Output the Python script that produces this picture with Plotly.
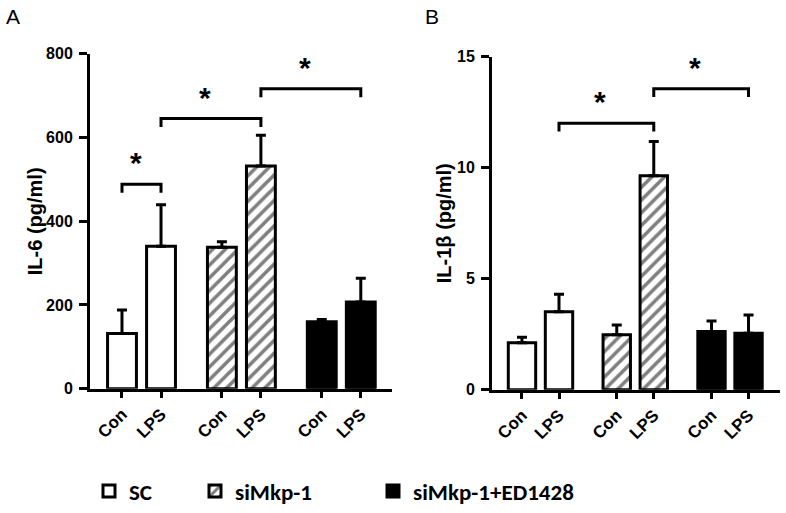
import plotly.graph_objects as go

# ---------------- data ----------------
conditions = ["Con", "LPS"]
groups = ["SC", "siMkp-1", "siMkp-1+ED1428"]

# IL-6 (pg/ml), order: SC Con, SC LPS, siMkp Con, siMkp LPS, ED Con, ED LPS
il6_mean = [132, 340, 338, 532, 160, 207]
il6_err = [56, 99, 13, 73, 5, 57]
il6_sig_pairs = [(0, 1), (1, 3), (3, 5)]
il6_sig_y = [488, 645, 716]
il6_ticks = [0, 200, 400, 600, 800]

# IL-1beta (pg/ml)
il1b_mean = [2.12, 3.51, 2.47, 9.64, 2.62, 2.54]
il1b_err = [0.24, 0.79, 0.44, 1.54, 0.47, 0.82]
il1b_sig_pairs = [(1, 3), (3, 5)]
il1b_sig_y = [12.0, 13.56]
il1b_ticks = [0, 5, 10, 15]

# ---------------- styling ----------------
GROUP_STEP = 2.56
BAR_W = 0.74
LW = 3
FONT = "Liberation Sans"
styles = [
    dict(color="white", pattern=dict(shape="")),
    dict(color="white", pattern=dict(shape="/", fgcolor="black", bgcolor="white", size=9, solidity=0.4)),
    dict(color="black", pattern=dict(shape="")),
]
legend_ids = ["legend", "legend2", "legend3"]

positions = [g * GROUP_STEP + i for g in range(len(groups)) for i in range(len(conditions))]
ticktext = [c for _ in groups for c in conditions]

fig = go.Figure()


def add_panel(means, errs, pairs, sig_y, ymax, xa, ya, show_legend):
    n = len(conditions)
    for g, name in enumerate(groups):
        xs = positions[g * n:(g + 1) * n]
        st = styles[g]
        fig.add_trace(go.Bar(
            x=xs, y=means[g * n:(g + 1) * n], width=BAR_W, name=name,
            marker=dict(color=st["color"], pattern=st["pattern"],
                        line=dict(color="black", width=LW)),
            error_y=dict(type="data", symmetric=False,
                         array=errs[g * n:(g + 1) * n], arrayminus=[0] * n,
                         color="black", thickness=LW, width=5),
            xaxis=xa, yaxis=ya, showlegend=show_legend,
            legend=legend_ids[g],
        ))
    drop = ymax * 0.025
    for (a, b), y in zip(pairs, sig_y):
        x1, x2 = positions[a], positions[b]
        fig.add_trace(go.Scatter(
            x=[x1, x1, x2, x2], y=[y - drop, y, y, y - drop], mode="lines",
            line=dict(color="black", width=LW), xaxis=xa, yaxis=ya,
            showlegend=False, hoverinfo="skip"))
        fig.add_annotation(x=(x1 + x2) / 2, y=y, xref=xa, yref=ya,
                           text="*", showarrow=False, yanchor="bottom",
                           xshift=-6, yshift=3,
                           font=dict(family=FONT, size=30, color="black", weight="bold"))


add_panel(il6_mean, il6_err, il6_sig_pairs, il6_sig_y, 800, "x", "y", True)
add_panel(il1b_mean, il1b_err, il1b_sig_pairs, il1b_sig_y, 15, "x2", "y2", False)

W, H = 786, 513
tickfont = dict(family=FONT, size=16, color="black", weight="bold")
xtickfont = dict(family=FONT, size=17, color="black", weight="bold")
titlefont = dict(family=FONT, size=20, color="black", weight="bold")


def xaxis(domain, rng):
    return dict(domain=domain, range=rng, tickvals=positions, ticktext=ticktext,
                tickangle=-45, ticks="outside", ticklen=6, tickwidth=LW,
                tickcolor="black", showline=True, linecolor="black", linewidth=LW,
                showgrid=False, zeroline=False, tickfont=xtickfont, automargin=False,
                fixedrange=True)


def yaxis(domain, rng, tickvals, anchor):
    return dict(domain=domain, range=rng, tickvals=tickvals, ticks="outside",
                ticklen=8, tickwidth=LW, tickcolor="black", showline=True,
                linecolor="black", linewidth=LW, showgrid=False, zeroline=False,
                tickfont=tickfont, anchor=anchor, automargin=False,
                ticklabelstandoff=3)


legend_common = dict(orientation="h", yanchor="middle", y=0.037, xanchor="left",
                     bgcolor="rgba(0,0,0,0)",
                     font=dict(family="Carlito, Liberation Sans Narrow, Arial Narrow, sans-serif",
                               size=23, color="black", weight="bold"))

fig.update_layout(
    width=W, height=H,
    margin=dict(l=0, r=0, t=0, b=0),
    paper_bgcolor="white", plot_bgcolor="white",
    barmode="overlay",
    xaxis=xaxis([90 / W, 392 / W], [-0.82, 6.92]) | dict(anchor="y"),
    yaxis=yaxis([1 - 391 / H, 1 - 54 / H], [0, 800], il6_ticks, "x"),
    xaxis2=xaxis([492 / W, 780 / W], [-0.81, 6.97]) | dict(anchor="y2"),
    yaxis2=yaxis([1 - 392 / H, 1 - 57 / H], [0, 15], il1b_ticks, "x2"),
    legend=legend_common | dict(x=89 / W),
    legend2=legend_common | dict(x=195 / W),
    legend3=legend_common | dict(x=373 / W),
    showlegend=True,
)

# y-axis titles
for title, xp, yref in [("IL-6 (pg/ml)", 35, "y domain"), ("IL-1β (pg/ml)", 444, "y2 domain")]:
    fig.add_annotation(text=title, x=xp / W, y=0.5, xref="paper", yref=yref,
                       textangle=-90, xanchor="center", yanchor="middle",
                       showarrow=False, font=titlefont)

for label, xp in [("A", 4), ("B", 423)]:
    fig.add_annotation(text=label, x=xp / W, y=1 - 17 / H, xref="paper", yref="paper",
                       xanchor="left", yanchor="middle", showarrow=False,
                       font=dict(family=FONT, size=21, color="black"))

fig.write_html("out.html", config={"displayModeBar": False},
               post_script="document.body.style.margin='0px';document.body.style.overflow='hidden';")
